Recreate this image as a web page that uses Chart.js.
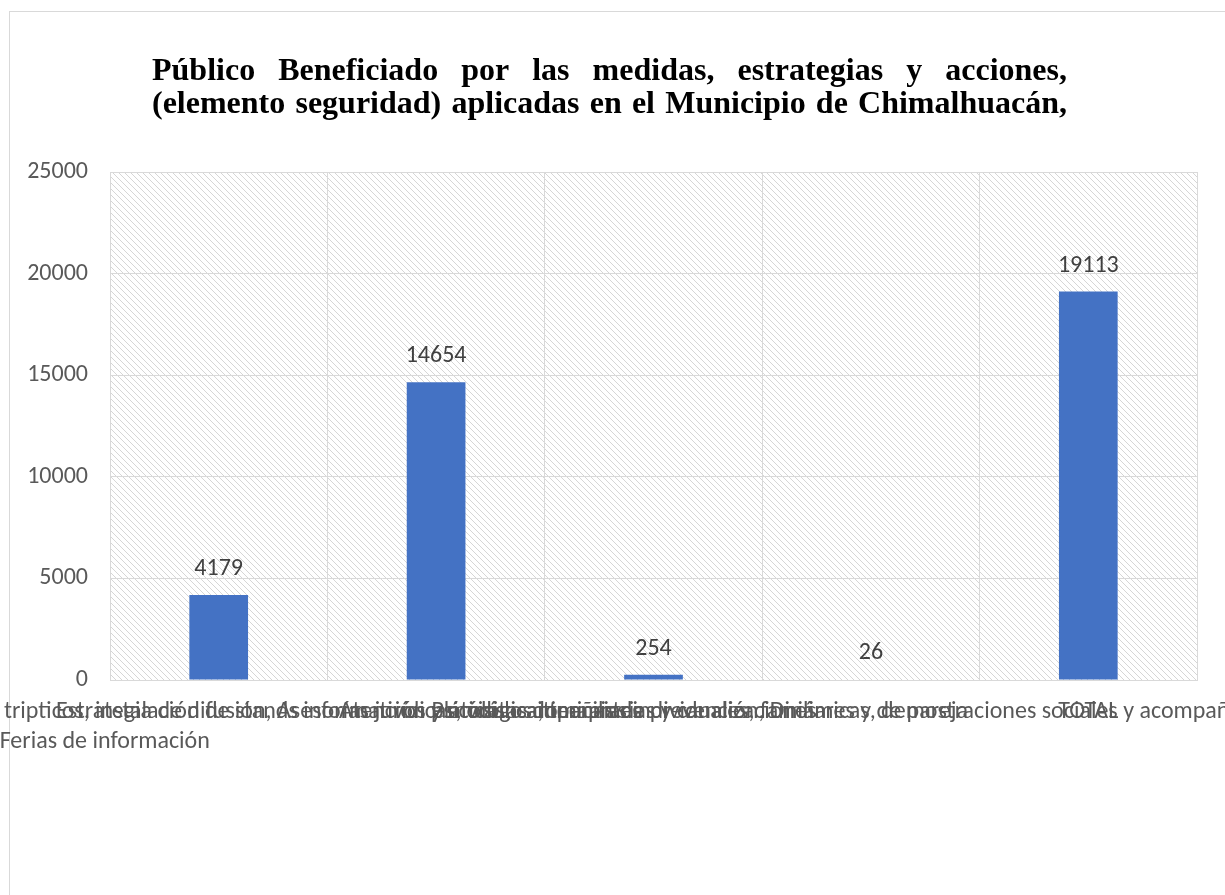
<!DOCTYPE html>
<html lang="es">
<head>
<meta charset="utf-8">
<title>Público Beneficiado</title>
<script src="https://cdn.jsdelivr.net/npm/chart.js@4.4.1/dist/chart.umd.min.js"></script>
<style>
  html, body { margin: 0; padding: 0; background: #fff; overflow: hidden; }
  .frame { position: absolute; left: 9px; top: 11px; width: 1400px; height: 1000px; border: 1px solid #d9d9d9; }
  #chart { position: absolute; left: 0; top: 0; }
</style>
</head>
<body>
<div class="frame"></div>
<canvas id="chart" width="1225" height="895"></canvas>
<script>
  // data
  const titleLines = [
    'Público Beneficiado por las medidas, estrategias y acciones,',
    '(elemento seguridad) aplicadas en el Municipio de Chimalhuacán,'
  ];
  const categories = [
    ['Volanteo, entrega de tripticos, instalación de stands informativos y módulos itinerantes',
     'Ferias de información' + ' '.repeat(42)],
    'Estrategia de difusión, Asesorías jurídicas, visitas domiciliarias y canalizaciones',
    'Atención psicológica, terapias individuales, familiares y de pareja',
    'Pláticas, campañas de prevención, Dinámicas, demostraciones sociales y acompañamiento',
    'TOTAL'
  ];
  const values = [4179, 14654, 254, 26, 19113];
  const yTicks = [0, 5000, 10000, 15000, 20000, 25000];

  const FONT = 'Carlito, Lato, sans-serif';

  // hatched plot background
  function makeHatch() {
    const c = document.createElement('canvas');
    c.width = 6; c.height = 6;
    const g = c.getContext('2d');
    g.strokeStyle = '#d6d6d6';
    g.lineWidth = 1;
    g.beginPath();
    g.moveTo(-1, -1); g.lineTo(7, 7);
    g.moveTo(-1, 5); g.lineTo(1, 7);
    g.moveTo(5, -1); g.lineTo(7, 1);
    g.stroke();
    return c;
  }

  const hatchPlugin = {
    id: 'hatch',
    beforeDraw(chart) {
      const { ctx, chartArea: a } = chart;
      ctx.save();
      ctx.fillStyle = ctx.createPattern(makeHatch(), 'repeat');
      ctx.fillRect(a.left, a.top, a.right - a.left, a.bottom - a.top);
      ctx.restore();
    }
  };

  // justified two-line title like the original
  const titlePlugin = {
    id: 'justTitle',
    afterDraw(chart) {
      const ctx = chart.ctx;
      const left = 152, right = 1067;
      const baselines = [80, 113];
      ctx.save();
      ctx.font = 'bold 32px "Liberation Serif", "Times New Roman", serif';
      ctx.fillStyle = '#000';
      ctx.textBaseline = 'alphabetic';
      titleLines.forEach((line, i) => {
        const words = line.split(' ');
        const widths = words.map(w => ctx.measureText(w).width);
        const total = widths.reduce((a, b) => a + b, 0);
        const gap = (right - left - total) / (words.length - 1);
        let x = left;
        words.forEach((w, j) => {
          ctx.fillText(w, x, baselines[i]);
          x += widths[j] + gap;
        });
      });
      ctx.restore();
    }
  };

  const valueLabels = {
    id: 'valueLabels',
    afterDatasetsDraw(chart) {
      const ctx = chart.ctx;
      const meta = chart.getDatasetMeta(0);
      ctx.save();
      ctx.font = '24px ' + FONT;
      ctx.fillStyle = '#404040';
      ctx.textAlign = 'center';
      ctx.textBaseline = 'middle';
      meta.data.forEach((bar, i) => {
        ctx.fillText(values[i], bar.x, bar.y - 26);
      });
      ctx.restore();
    }
  };

  new Chart(document.getElementById('chart'), {
    type: 'bar',
    data: {
      labels: categories,
      datasets: [{
        data: values,
        backgroundColor: '#4472c4',
        borderWidth: 0,
        categoryPercentage: 1,
        barPercentage: 0.27
      }]
    },
    options: {
      responsive: false,
      animation: false,
      layout: {
        autoPadding: false,
        padding: { top: 172, left: 27, right: 28, bottom: 125 }
      },
      plugins: {
        legend: { display: false },
        title: { display: false },
        tooltip: { enabled: false }
      },
      scales: {
        x: {
          grid: { color: '#d9d9d9', drawTicks: false, offset: true },
          border: { color: '#d9d9d9' },
          ticks: {
            autoSkip: false,
            maxRotation: 0,
            minRotation: 0,
            padding: 17,
            color: '#595959',
            font: { family: FONT, size: 24, lineHeight: 1.25 }
          },
          afterFit(scale) {
            scale.height = 90;
            scale.paddingLeft = 0;
            scale.paddingRight = 0;
          }
        },
        y: {
          min: 0,
          max: 25000,
          afterBuildTicks(scale) { scale.ticks = yTicks.map(v => ({ value: v })); },
          grid: { color: '#d9d9d9', drawTicks: false },
          border: { color: '#d9d9d9' },
          ticks: {
            padding: 22,
            color: '#595959',
            font: { family: FONT, size: 24 },
            callback: v => String(v)
          },
          afterFit(scale) { scale.width = 83; }
        }
      }
    },
    plugins: [hatchPlugin, valueLabels, titlePlugin]
  });
</script>
</body>
</html>
